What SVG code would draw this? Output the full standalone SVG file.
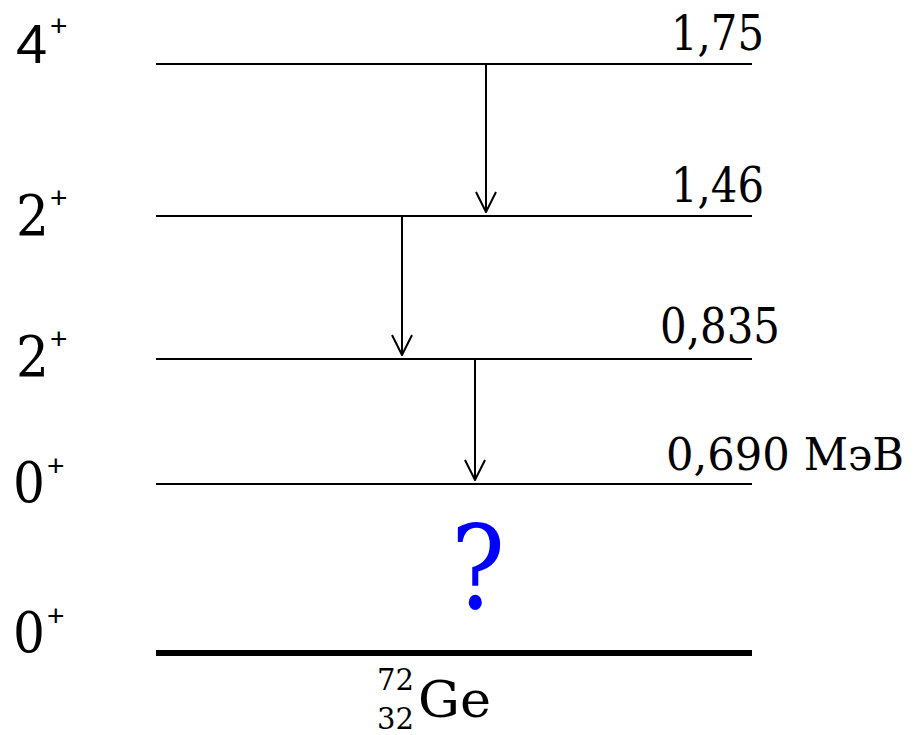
<svg xmlns="http://www.w3.org/2000/svg" width="914" height="735" viewBox="0 0 914 735">
<defs>
<marker id="ah" viewBox="0 0 22 22" refX="21" refY="11" markerWidth="22" markerHeight="22" markerUnits="userSpaceOnUse" orient="auto">
<path d="M1,1 L21,11 L1,21" fill="none" stroke="#000" stroke-width="2"/>
</marker>
</defs>
<rect width="914" height="735" fill="#fff"/>
<g id="levels" stroke="#000" stroke-width="2">
<g id="level-175"><line x1="156" y1="64" x2="752" y2="64"/></g>
<g id="level-146"><line x1="156" y1="216" x2="752" y2="216"/></g>
<g id="level-0835"><line x1="156" y1="359" x2="752" y2="359"/></g>
<g id="level-0690"><line x1="156" y1="484" x2="752" y2="484"/></g>
<g id="level-ground"><line x1="156" y1="653" x2="752" y2="653" stroke-width="6"/></g>
</g>
<g id="labels" font-family="DejaVu Serif, serif" fill="#000">
<text x="671" y="50" font-size="49" textLength="93" lengthAdjust="spacingAndGlyphs">1,75</text>
<text x="671" y="202" font-size="49" textLength="93" lengthAdjust="spacingAndGlyphs">1,46</text>
<text x="660" y="343" font-size="49" textLength="120" lengthAdjust="spacingAndGlyphs">0,835</text>
<text x="666" y="470" font-size="45" textLength="238" lengthAdjust="spacingAndGlyphs">0,690 МэВ</text>
<text x="16" y="63" font-size="56" font-family="Liberation Sans, Arial, sans-serif">4</text>
<text x="16" y="235" font-size="56" textLength="33" lengthAdjust="spacingAndGlyphs">2</text>
<text x="16" y="376" font-size="56" textLength="33" lengthAdjust="spacingAndGlyphs">2</text>
<text x="13" y="502" font-size="56" textLength="32" lengthAdjust="spacingAndGlyphs">0</text>
<text x="13" y="652" font-size="56" textLength="32" lengthAdjust="spacingAndGlyphs">0</text>
<g font-family="Liberation Sans, Arial, sans-serif" font-size="30">
<text x="50" y="36">+</text>
<text x="50" y="208">+</text>
<text x="50" y="349">+</text>
<text x="47" y="476">+</text>
<text x="47" y="626">+</text>
</g>
</g>
<g id="connectors" stroke="#000" stroke-width="2" fill="none">
<line x1="486" y1="64" x2="486" y2="212" marker-end="url(#ah)"/>
<line x1="402" y1="216" x2="402" y2="355" marker-end="url(#ah)"/>
<line x1="475" y1="359" x2="475" y2="480" marker-end="url(#ah)"/>
</g>
<g id="question"><text x="451" y="608" font-size="116" textLength="54" lengthAdjust="spacingAndGlyphs" fill="#0000ff" font-family="DejaVu Serif, serif">?</text></g>
<g id="nucleus" font-family="DejaVu Serif, serif" fill="#000">
<text x="377" y="690" font-size="30" textLength="37" lengthAdjust="spacingAndGlyphs">72</text>
<text x="377" y="729" font-size="30" textLength="37" lengthAdjust="spacingAndGlyphs">32</text>
<text x="418" y="717" font-size="51" textLength="73" lengthAdjust="spacingAndGlyphs">Ge</text>
</g>
</svg>
